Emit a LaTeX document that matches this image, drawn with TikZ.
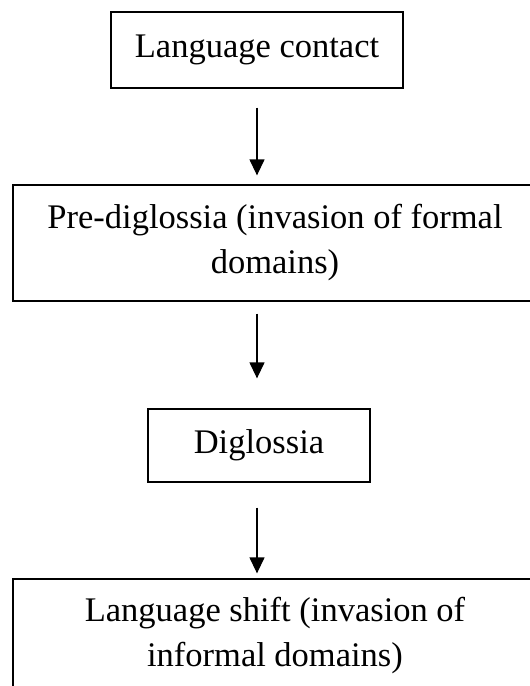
\documentclass[tikz,border=0pt]{standalone}
\usepackage{fontspec}
\setmainfont{Liberation Serif}
\usetikzlibrary{arrows.meta,calc}
\begin{document}
\begin{tikzpicture}[x=1pt,y=-1pt,
  box/.style={draw=black,line width=1.3pt,inner sep=0pt,align=center,
    font=\fontsize{34.5}{45}\selectfont},
  arr/.style={line width=1.3pt,-{Triangle[width=15pt,length=16pt]}}]
\clip (0,0) rectangle (530,686);
\fill[white] (0,0) rectangle (530,686);
\node[box,minimum width=292pt,minimum height=76pt] (b1) at (257,50) {Language contact};
\node[box,minimum width=524pt,minimum height=116pt] (b2) at (275,243) {Pre-diglossia (invasion of formal\\domains)};
\node[box,minimum width=222pt,minimum height=73pt] (b3) at (259,445.5) {Diglossia};
\node[box,minimum width=524pt,minimum height=114pt] (b4) at (275,636) {Language shift (invasion of\\informal domains)};
\draw[arr] ($(b1.south)+(0,19)$) -- ($(b2.north -| b1.south)+(0,-9)$);
\draw[arr] ($(b2.south -| b1.south)+(0,12)$) -- ($(b3.north -| b1.south)+(0,-30)$);
\draw[arr] ($(b3.south -| b1.south)+(0,25)$) -- ($(b4.north -| b1.south)+(0,-5)$);
\end{tikzpicture}
\end{document}
